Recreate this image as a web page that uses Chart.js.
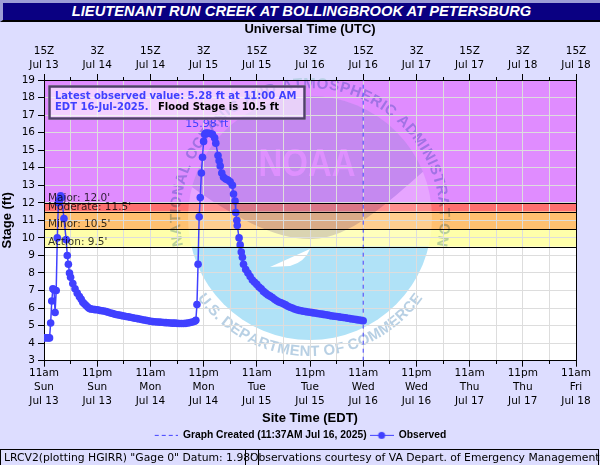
<!DOCTYPE html>
<html>
<head>
<meta charset="utf-8">
<script src="https://cdn.jsdelivr.net/npm/chart.js@4/dist/chart.umd.min.js"></script>
<style>
html, body { margin: 0; padding: 0; width: 600px; height: 465px; overflow: hidden; background: #ddddff; }
#chart { position: absolute; left: 0; top: 0; }
#title {
    position: absolute; left: 0; top: 0; width: 600px; height: 22px; box-sizing: border-box;
    background: #0a0082; border-top: 3px solid #9d9dd6; border-left: 3px solid #9d9dd6; border-bottom: 2px solid #000;
    color: #fff; font: italic bold 14.7px "Liberation Sans", sans-serif; text-align: center; line-height: 17px;
}
.foot {
    position: absolute; top: 449px; height: 17px; box-sizing: border-box; border: 1px solid #000;
    font: 10.8px "DejaVu Sans", sans-serif; line-height: 15px; white-space: nowrap; color: #000;
}
</style>
</head>
<body>
<canvas id="chart" width="600" height="460"></canvas>
<div id="title">LIEUTENANT RUN CREEK AT BOLLINGBROOK AT PETERSBURG</div>
<div class="foot" style="left:0;width:259px;padding-left:3px">LRCV2(plotting HGIRR) "Gage 0" Datum: 1.98'</div>
<div class="foot" style="left:245px;width:354px;padding-left:4px">Observations courtesy of VA Depart. of Emergency Management</div>
<script>
'use strict';

// hours since 11am Sun Jul 13
const obsHours = [
    0, 0.5, 1, 1.25, 1.5, 1.75, 2, 2.25, 2.5, 2.75, 3, 3.25, 3.5, 3.75, 4, 4.5, 5, 5.25, 5.5, 5.75,
    6, 6.5, 7, 7.5, 8, 8.4, 8.75, 9.1, 9.5, 9.9, 10.25, 10.6, 11, 11.5,
    12, 12.5, 13, 13.5, 14, 14.5, 15, 15.5, 16, 16.5, 17, 17.5, 18, 18.5, 19, 19.5, 20, 20.5, 21, 21.5, 22, 22.5, 23, 23.5,
    24, 24.5, 25, 25.5, 26, 26.5, 27, 27.5, 28, 28.5, 29, 29.5, 30, 30.5, 31, 31.5, 32, 32.5, 33, 33.5, 34,
    34.25, 34.5, 34.75, 35, 35.25, 35.5, 35.75, 36, 36.25,
    36.5, 37, 37.5, 38, 38.5, 38.75, 39.25, 39.5, 39.75, 40.1, 40.5, 41, 41.5, 42, 42.5, 42.75, 43.1,
    43.25, 43.5, 43.6, 44, 44.25, 44.5, 44.75, 45, 45.5, 46, 46.5, 47, 47.5, 48, 48.5, 49, 49.5, 50,
    50.5, 51, 51.5, 52, 52.5,
    53, 53.5, 54, 54.5, 55, 55.5, 56, 56.5, 57, 57.5, 58, 58.5, 59, 59.5, 60, 60.5, 61, 61.5, 62, 62.5,
    63, 63.5, 64, 64.5, 65, 65.5, 66, 66.5, 67, 67.5, 68, 68.5, 69, 69.5, 70, 70.5, 71, 71.5, 72
];
const obsStage = [
    4.3, 4.3, 4.3, 4.3, 5.15, 6.4, 7.1, 7.05, 5.75, 7.0, 10.0, 12.0, 12.2, 12.4, 12.3, 11.1, 9.9, 9.0, 8.5, 8.0,
    7.75, 7.4, 7.1, 6.85, 6.65, 6.5, 6.33, 6.25, 6.15, 6.05, 5.97, 5.95, 5.93, 5.91,
    5.9, 5.87, 5.85, 5.83, 5.8, 5.76, 5.72, 5.69, 5.65, 5.62, 5.6, 5.57, 5.55, 5.52, 5.5, 5.48, 5.45, 5.42, 5.4, 5.38, 5.35, 5.32, 5.3, 5.28,
    5.25, 5.23, 5.22, 5.21, 5.2, 5.19, 5.18, 5.17, 5.16, 5.15, 5.14, 5.14, 5.13, 5.12, 5.12, 5.12, 5.13, 5.15, 5.18, 5.21, 5.25,
    5.3, 6.2, 8.5, 11.2, 12.3, 13.7, 14.6, 15.5, 15.9,
    15.98, 15.98, 15.95, 15.9, 15.7, 15.4, 14.7, 14.4, 14.1, 13.7, 13.45, 13.35, 13.3, 13.2, 13.0, 12.5, 12.1,
    11.45, 11.0, 10.7, 10.0, 9.6, 9.2, 8.9, 8.5, 8.2, 8.0, 7.8, 7.6, 7.47, 7.35, 7.2, 7.1, 6.95, 6.85,
    6.75, 6.68, 6.6, 6.5, 6.42,
    6.35, 6.3, 6.25, 6.18, 6.1, 6.05, 6.0, 5.95, 5.9, 5.87, 5.85, 5.82, 5.8, 5.78, 5.76, 5.74, 5.72, 5.7, 5.68, 5.66,
    5.64, 5.62, 5.6, 5.57, 5.55, 5.53, 5.52, 5.5, 5.48, 5.46, 5.45, 5.42, 5.4, 5.38, 5.36, 5.34, 5.32, 5.3, 5.28
];
const graphCreatedHours = [72, 72];
const graphCreatedStage = [3, 19];

const siteLabels = [
    ['11am', 'Sun', 'Jul 13'], ['11pm', 'Sun', 'Jul 13'], ['11am', 'Mon', 'Jul 14'], ['11pm', 'Mon', 'Jul 14'],
    ['11am', 'Tue', 'Jul 15'], ['11pm', 'Tue', 'Jul 15'], ['11am', 'Wed', 'Jul 16'], ['11pm', 'Wed', 'Jul 16'],
    ['11am', 'Thu', 'Jul 17'], ['11pm', 'Thu', 'Jul 17'], ['11am', 'Fri', 'Jul 18']
];
const utcLabels = [
    ['15Z', 'Jul 13'], ['3Z', 'Jul 14'], ['15Z', 'Jul 14'], ['3Z', 'Jul 15'], ['15Z', 'Jul 15'], ['3Z', 'Jul 16'],
    ['15Z', 'Jul 16'], ['3Z', 'Jul 17'], ['15Z', 'Jul 17'], ['3Z', 'Jul 18'], ['15Z', 'Jul 18']
];

const bandNames = ["Major: 12.0'", "Moderate: 11.5'", "Minor: 10.5'", "Action: 9.5'"];
const bandFloors = [12, 11.5, 10.5, 9.5];
const bandColors = ['#e08cff', '#ff7070', '#ffc070', '#ffffaa'];

const BLUE = '#4040ff';
const TICK_FONT = { family: '"DejaVu Sans"', size: 10.5, lineHeight: 1.33 };
const BOLD_FONT = { family: '"Liberation Sans"', size: 13, weight: 'bold' };

// small legend swatches
function swatch(draw) {
    let c = document.createElement('canvas');
    c.width = 24;
    c.height = 10;
    draw(c.getContext('2d'));
    return c;
}
const dashSwatch = swatch(function (g) {
    g.strokeStyle = BLUE;
    g.setLineDash([4, 3]);
    g.beginPath();
    g.moveTo(1, 5.5);
    g.lineTo(24, 5.5);
    g.stroke();
});
const lineSwatch = swatch(function (g) {
    g.strokeStyle = BLUE;
    g.fillStyle = BLUE;
    g.beginPath();
    g.moveTo(0, 5.5);
    g.lineTo(24, 5.5);
    g.stroke();
    g.beginPath();
    g.arc(12, 5.5, 3.5, 0, Math.PI * 2);
    g.fill();
});

function arcText(g, text, cx, cy, r, midAngle, spacing, inward) {
    let total = 0;
    let widths = [];
    for (let ch of text) {
        let w = g.measureText(ch).width + spacing;
        widths.push(w);
        total += w;
    }
    let pos = -total / 2;
    let i = 0;
    for (let ch of text) {
        let off = (pos + widths[i] / 2) / r;
        let a = inward ? midAngle + off : midAngle - off;
        g.save();
        g.translate(cx + r * Math.cos(a), cy + r * Math.sin(a));
        g.rotate(inward ? a + Math.PI / 2 : a - Math.PI / 2);
        g.fillText(ch, 0, 0);
        g.restore();
        pos += widths[i];
        i++;
    }
}

// NOAA seal behind the plot
function drawSeal(g, yPix) {
    const cx = 310, cy = 218, r = 122;
    g.save();
    g.textAlign = 'center';
    g.textBaseline = 'middle';

    // light lower part, pale over the flood bands
    g.save();
    g.beginPath();
    g.arc(cx, cy, r, 0, Math.PI * 2);
    g.clip();
    g.fillStyle = 'rgba(255,255,255,0.22)';
    g.fillRect(cx - r, cy - r, r * 2, yPix(9.5) - cy + r);
    g.fillStyle = '#b0e2f7';
    g.fillRect(cx - r, yPix(9.5), r * 2, cy + r - yPix(9.5));

    // dark upper part
    g.globalCompositeOperation = 'multiply';
    g.fillStyle = 'rgb(218,212,240)';
    g.beginPath();
    g.moveTo(185, 182);
    g.bezierCurveTo(230, 215, 275, 240, 312, 239);
    g.bezierCurveTo(350, 238, 385, 205, 425, 170);
    g.lineTo(440, 90);
    g.lineTo(180, 90);
    g.closePath();
    g.fill();
    g.globalCompositeOperation = 'source-over';

    // gull
    g.fillStyle = '#ffffff';
    g.beginPath();
    g.moveTo(270, 267);
    g.lineTo(290, 266);
    g.quadraticCurveTo(305, 262, 310, 249);
    g.quadraticCurveTo(290, 258, 270, 267);
    g.fill();
    g.restore();

    g.fillStyle = '#de90fe';
    g.font = 'bold 39px "Liberation Sans"';
    g.fillText('NOAA', 307, 165, 97);

    g.globalCompositeOperation = 'multiply';
    g.fillStyle = 'rgb(184,208,228)';
    g.font = 'bold 15px "Liberation Sans"';
    arcText(g, 'NATIONAL OCEANIC AND ATMOSPHERIC ADMINISTRATION', cx, cy, 134, -Math.PI / 2, 0.9, true);
    arcText(g, 'U.S. DEPARTMENT OF COMMERCE', cx, cy, 134, Math.PI / 2, 0, false);
    g.restore();
}

const backdrop = {
    id: 'backdrop',
    beforeDraw(chart) {
        let g = chart.ctx, a = chart.chartArea, y = chart.scales.y;
        let yPix = function (v) { return y.getPixelForValue(v); };
        g.save();
        g.fillStyle = '#ffffff';
        g.fillRect(a.left, a.top, a.width, a.height);
        let top = y.max;
        bandFloors.forEach(function (floor, i) {
            g.fillStyle = bandColors[i];
            g.fillRect(a.left, yPix(top), a.width, yPix(floor) - yPix(top));
            top = floor;
        });
        drawSeal(g, yPix);
        g.restore();
    },
    afterDatasetsDraw(chart) {
        let g = chart.ctx, a = chart.chartArea, x = chart.scales.x, y = chart.scales.y;
        g.save();
        // flood lines and their names
        g.strokeStyle = '#000';
        g.fillStyle = 'rgba(0,0,0,0.8)';
        g.font = '10.5px "DejaVu Sans"';
        g.textBaseline = 'bottom';
        bandFloors.forEach(function (floor, i) {
            let p = Math.round(y.getPixelForValue(floor)) + 0.5;
            g.beginPath();
            g.moveTo(a.left, p);
            g.lineTo(a.right, p);
            g.stroke();
            g.fillText(bandNames[i], a.left + 4, p);
        });

        // peak label
        let peak = Math.max.apply(null, obsStage);
        let peakAt = obsHours[obsStage.indexOf(peak)];
        g.fillStyle = BLUE;
        g.font = '11px "DejaVu Sans"';
        g.textAlign = 'center';
        g.fillText(peak.toFixed(2) + ' ft', x.getPixelForValue(peakAt) + 1, y.getPixelForValue(peak) - 3);
        g.textAlign = 'left';

        // latest value box
        g.fillStyle = 'rgba(255,255,255,0.6)';
        g.fillRect(48, 85, 258, 35);
        g.strokeStyle = '#50406a';
        g.lineWidth = 2.5;
        g.strokeRect(49.5, 86.5, 255, 32);
        g.textBaseline = 'middle';
        g.font = 'bold 10px "DejaVu Sans"';
        g.fillStyle = BLUE;
        g.fillText('Latest observed value: 5.28 ft at 11:00 AM', 55, 96, 244);
        g.fillText('EDT 16-Jul-2025.', 55, 107, 97);
        g.fillStyle = '#000';
        g.fillText('Flood Stage is 10.5 ft', 158, 107, 121);
        g.restore();
    }
};

const chart = new Chart(document.getElementById('chart'), {
    type: 'scatter',
    plugins: [backdrop],
    data: {
        datasets: [
            {
                label: 'Graph Created (11:37AM Jul 16, 2025)',
                data: graphCreatedHours.map(function (h, i) { return { x: h, y: graphCreatedStage[i] }; }),
                showLine: true,
                borderColor: BLUE,
                borderWidth: 1,
                borderDash: [4, 4],
                pointRadius: 0,
                pointStyle: dashSwatch,
            }, {
                label: 'Observed',
                data: obsHours.map(function (h, i) { return { x: h, y: obsStage[i] }; }),
                showLine: true,
                borderColor: BLUE,
                backgroundColor: BLUE,
                borderWidth: 1.5,
                pointRadius: 3.8,
                pointBorderWidth: 0,
                pointStyle: 'circle',
            }
        ]
    },
    options: {
        responsive: false,
        animation: false,
        events: [],
        layout: { padding: { top: 22, bottom: 10 } },
        plugins: {
            tooltip: { enabled: false },
            legend: {
                position: 'bottom',
                labels: {
                    usePointStyle: true,
                    pointStyleWidth: 24,
                    boxHeight: 10,
                    padding: 3,
                    color: '#000',
                    font: { family: '"Liberation Sans"', size: 10.3, weight: 'bold' },
                    generateLabels: function (c) {
                        return [
                            { text: c.data.datasets[0].label, pointStyle: dashSwatch, datasetIndex: 0, lineWidth: 0, fontColor: '#000' },
                            { text: c.data.datasets[1].label, pointStyle: lineSwatch, datasetIndex: 1, lineWidth: 0, fontColor: '#000' },
                        ];
                    }
                }
            }
        },
        scales: {
            x: {
                type: 'linear',
                position: 'bottom',
                min: 0,
                max: 120,
                afterFit: function (s) { s.height = 66; },
                border: { color: '#000' },
                grid: {
                    color: '#dddddd',
                    tickColor: '#000',
                    tickLength: 6,
                    tickBorderDash: function (c) { return c.tick.value % 12 === 0 ? [] : [3, 9]; },
                },
                ticks: {
                    stepSize: 6,
                    autoSkip: false,
                    maxRotation: 0,
                    padding: 0,
                    color: '#000',
                    font: TICK_FONT,
                    callback: function (v) { return v % 12 === 0 ? siteLabels[v / 12] : ''; },
                },
                title: { display: true, text: 'Site Time (EDT)', color: '#000', font: BOLD_FONT, padding: 0 },
            },
            x2: {
                type: 'linear',
                position: 'top',
                min: 0,
                max: 120,
                afterFit: function (s) { s.height = 58; },
                border: { color: '#000' },
                grid: {
                    drawOnChartArea: false,
                    tickColor: '#000',
                    tickLength: 6,
                    tickBorderDash: function (c) { return c.tick.value % 12 === 0 ? [] : [3, 3]; },
                    tickBorderDashOffset: function (c) { return c.tick.value % 12 === 0 ? 0 : 3; },
                },
                ticks: {
                    stepSize: 6,
                    autoSkip: false,
                    maxRotation: 0,
                    padding: 2,
                    color: '#000',
                    font: TICK_FONT,
                    callback: function (v) { return v % 12 === 0 ? utcLabels[v / 12] : ''; },
                },
                title: { display: true, text: 'Universal Time (UTC)', color: '#000', font: BOLD_FONT, padding: 0 },
            },
            y: {
                position: 'left',
                min: 3,
                max: 19,
                afterFit: function (s) { s.width = 44; },
                border: { color: '#000' },
                grid: { color: '#dddddd', tickColor: '#000', tickLength: 6 },
                ticks: { stepSize: 1, padding: 3, color: '#000', font: TICK_FONT },
                title: { display: true, text: 'Stage (ft)', color: '#000', font: BOLD_FONT, padding: 0 },
            },
            y2: {
                position: 'right',
                min: 3,
                max: 19,
                afterFit: function (s) { s.width = 24; },
                border: { color: '#000' },
                grid: { drawOnChartArea: false, drawTicks: false },
                ticks: { display: false },
            }
        }
    },
});
</script>
</body>
</html>
